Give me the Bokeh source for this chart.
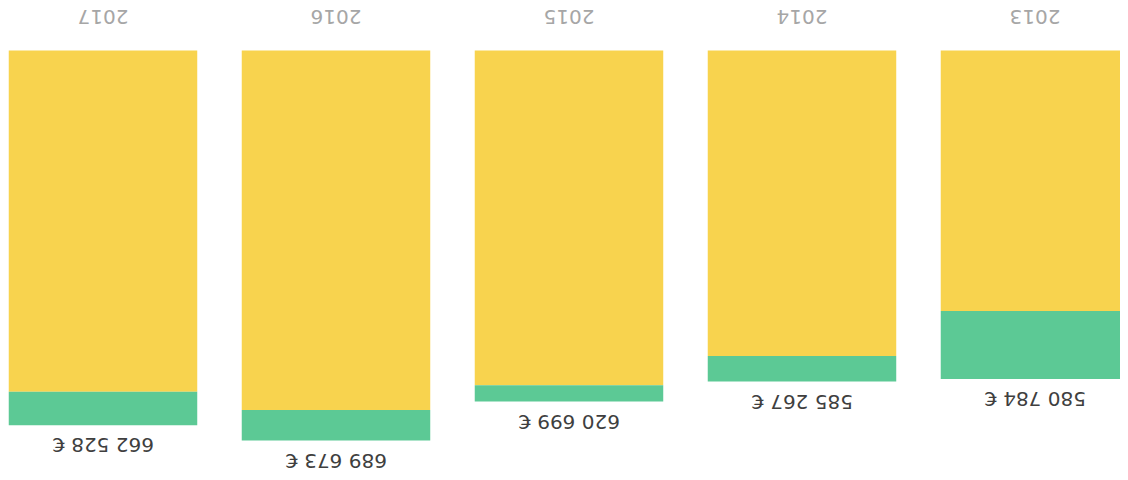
from bokeh.plotting import figure
from bokeh.models import Range1d, ColumnDataSource
from bokeh.core.properties import value
from bokeh.embed import file_html
from bokeh.resources import INLINE

# Data (chart is shown rotated by 180 degrees, as in the scanned reference)
years = [2013, 2014, 2015, 2016, 2017]
year_labels = ["2013", "2014", "2015", "2016", "2017"]
totals = [580784, 585267, 620699, 689673, 662528]
green_part = [120000, 45000, 29000, 54000, 59000]
total_labels = ["580 784 €", "585 267 €", "620 699 €", "689 673 €", "662 528 €"]

yellow_part = [t - g for t, g in zip(totals, green_part)]

YELLOW = "#F8D34E"
GREEN = "#5CC995"

src = ColumnDataSource(dict(
    year=years,
    year_label=year_labels,
    yellow=yellow_part,
    total=totals,
    label=total_labels,
    zero=[0] * len(years),
))

p = figure(
    width=1120, height=472,
    output_backend="svg", toolbar_location=None,
    x_range=Range1d(start=2017.4399, end=2012.633),
    y_range=Range1d(start=746096, end=-88400),
    min_border=0, min_border_left=0, min_border_right=0,
    min_border_top=0, min_border_bottom=0,
)
p.axis.visible = False
p.grid.visible = False
p.outline_line_color = None
p.background_fill_color = "white"
p.border_fill_color = "white"

bw = 0.809
p.vbar(x="year", bottom="zero", top="yellow", width=bw, source=src,
       fill_color=YELLOW, line_color=None)
p.vbar(x="year", bottom="yellow", top="total", width=bw, source=src,
       fill_color=GREEN, line_color=None)

# year labels (upside down, beyond the bars' base)
p.text(x="year", y="zero", text="year_label", source=src, angle=3.14159265,
       text_align="center", text_baseline="middle", y_offset=-34,
       text_font=value("DejaVu Sans"), text_font_size="20px",
       text_color="#A6A6A6")

# total labels (upside down, beyond the bar ends)
p.text(x="year", y="total", text="label", source=src, angle=3.14159265,
       text_align="center", text_baseline="middle", y_offset=20,
       text_font=value("DejaVu Sans"), text_font_size="20px",
       text_color="#3F3F3F")

open("out.html", "w").write(file_html(p, INLINE))
